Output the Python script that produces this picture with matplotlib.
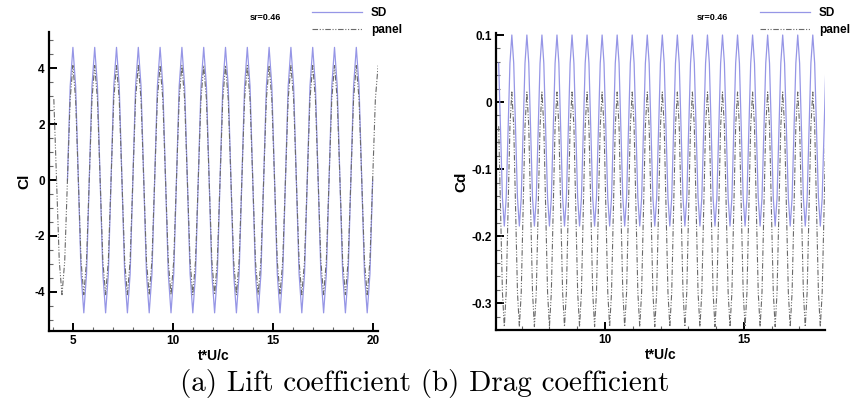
import numpy as np
import matplotlib.pyplot as plt
from matplotlib.ticker import MultipleLocator, FormatStrFormatter

plt.rcParams['font.family'] = ['Liberation Sans', 'DejaVu Sans']
plt.rcParams['font.weight'] = 'bold'
plt.rcParams['axes.labelweight'] = 'bold'
plt.rcParams['axes.unicode_minus'] = False

cl_dt = 0.13625
cl_t0_sd = 4.723
cl_t0_panel = 4.041
cl_sd = [0.0,
         3.36, 4.75, 3.36, 0.0, -3.36, -4.75, -3.36, 0.0,
         3.36, 4.75, 3.36, 0.0, -3.36, -4.75, -3.36, 0.0,
         3.36, 4.75, 3.36, 0.0, -3.36, -4.75, -3.36, 0.0,
         3.36, 4.75, 3.36, 0.0, -3.36, -4.75, -3.36, 0.0,
         3.36, 4.75, 3.36, 0.0, -3.36, -4.75, -3.36, 0.0,
         3.36, 4.75, 3.36, 0.0, -3.36, -4.75, -3.36, 0.0,
         3.36, 4.75, 3.36, 0.0, -3.36, -4.75, -3.36, 0.0,
         3.36, 4.75, 3.36, 0.0, -3.36, -4.75, -3.36, 0.0,
         3.36, 4.75, 3.36, 0.0, -3.36, -4.75, -3.36, 0.0,
         3.36, 4.75, 3.36, 0.0, -3.36, -4.75, -3.36, 0.0,
         3.36, 4.75, 3.36, 0.0, -3.36, -4.75, -3.36, 0.0,
         3.36, 4.75, 3.36, 0.0, -3.36, -4.75, -3.36, 0.0,
         3.36, 4.75, 3.36, 0.0, -3.36, -4.75, -3.36, 0.0,
         3.36, 4.75, 3.36, 0.0, -3.36, -4.75, -3.36, 0.0]
cl_panel = [2.9, 0.0, -2.9, -4.1, -2.9, 0.0, 2.9, 4.1,
            2.9, 0.0, -2.9, -4.1, -2.9, 0.0, 2.9, 4.1,
            2.9, 0.0, -2.9, -4.1, -2.9, 0.0, 2.9, 4.1,
            2.9, 0.0, -2.9, -4.1, -2.9, 0.0, 2.9, 4.1,
            2.9, 0.0, -2.9, -4.1, -2.9, 0.0, 2.9, 4.1,
            2.9, 0.0, -2.9, -4.1, -2.9, 0.0, 2.9, 4.1,
            2.9, 0.0, -2.9, -4.1, -2.9, 0.0, 2.9, 4.1,
            2.9, 0.0, -2.9, -4.1, -2.9, 0.0, 2.9, 4.1,
            2.9, 0.0, -2.9, -4.1, -2.9, 0.0, 2.9, 4.1,
            2.9, 0.0, -2.9, -4.1, -2.9, 0.0, 2.9, 4.1,
            2.9, 0.0, -2.9, -4.1, -2.9, 0.0, 2.9, 4.1,
            2.9, 0.0, -2.9, -4.1, -2.9, 0.0, 2.9, 4.1,
            2.9, 0.0, -2.9, -4.1, -2.9, 0.0, 2.9, 4.1,
            2.9, 0.0, -2.9, -4.1, -2.9, 0.0, 2.9, 4.1,
            2.9, 0.0, -2.9, -4.1, -2.9, 0.0, 2.9, 4.1]

# Drag coefficient histories, same sampling density
cd_dt = 0.06769
cd_t0 = 6.176
cd_sd = [0.058, -0.0425, -0.143, -0.185, -0.143, -0.0425, 0.058, 0.1,
         0.058, -0.0425, -0.143, -0.185, -0.143, -0.0425, 0.058, 0.1,
         0.058, -0.0425, -0.143, -0.185, -0.143, -0.0425, 0.058, 0.1,
         0.058, -0.0425, -0.143, -0.185, -0.143, -0.0425, 0.058, 0.1,
         0.058, -0.0425, -0.143, -0.185, -0.143, -0.0425, 0.058, 0.1,
         0.058, -0.0425, -0.143, -0.185, -0.143, -0.0425, 0.058, 0.1,
         0.058, -0.0425, -0.143, -0.185, -0.143, -0.0425, 0.058, 0.1,
         0.058, -0.0425, -0.143, -0.185, -0.143, -0.0425, 0.058, 0.1,
         0.058, -0.0425, -0.143, -0.185, -0.143, -0.0425, 0.058, 0.1,
         0.058, -0.0425, -0.143, -0.185, -0.143, -0.0425, 0.058, 0.1,
         0.058, -0.0425, -0.143, -0.185, -0.143, -0.0425, 0.058, 0.1,
         0.058, -0.0425, -0.143, -0.185, -0.143, -0.0425, 0.058, 0.1,
         0.058, -0.0425, -0.143, -0.185, -0.143, -0.0425, 0.058, 0.1,
         0.058, -0.0425, -0.143, -0.185, -0.143, -0.0425, 0.058, 0.1,
         0.058, -0.0425, -0.143, -0.185, -0.143, -0.0425, 0.058, 0.1,
         0.058, -0.0425, -0.143, -0.185, -0.143, -0.0425, 0.058, 0.1,
         0.058, -0.0425, -0.143, -0.185, -0.143, -0.0425, 0.058, 0.1,
         0.058, -0.0425, -0.143, -0.185, -0.143, -0.0425, 0.058, 0.1,
         0.058, -0.0425, -0.143, -0.185, -0.143, -0.0425, 0.058, 0.1,
         0.058, -0.0425, -0.143, -0.185, -0.143, -0.0425, 0.058, 0.1,
         0.058, -0.0425, -0.143, -0.185, -0.143, -0.0425, 0.058, 0.1,
         0.058, -0.0425, -0.143, -0.185, -0.143, -0.0425, 0.058]
cd_panel = [-0.036, -0.16, -0.284, -0.335, -0.284, -0.16, -0.036, 0.015,
            -0.036, -0.16, -0.284, -0.335, -0.284, -0.16, -0.036, 0.015,
            -0.036, -0.16, -0.284, -0.335, -0.284, -0.16, -0.036, 0.015,
            -0.036, -0.16, -0.284, -0.335, -0.284, -0.16, -0.036, 0.015,
            -0.036, -0.16, -0.284, -0.335, -0.284, -0.16, -0.036, 0.015,
            -0.036, -0.16, -0.284, -0.335, -0.284, -0.16, -0.036, 0.015,
            -0.036, -0.16, -0.284, -0.335, -0.284, -0.16, -0.036, 0.015,
            -0.036, -0.16, -0.284, -0.335, -0.284, -0.16, -0.036, 0.015,
            -0.036, -0.16, -0.284, -0.335, -0.284, -0.16, -0.036, 0.015,
            -0.036, -0.16, -0.284, -0.335, -0.284, -0.16, -0.036, 0.015,
            -0.036, -0.16, -0.284, -0.335, -0.284, -0.16, -0.036, 0.015,
            -0.036, -0.16, -0.284, -0.335, -0.284, -0.16, -0.036, 0.015,
            -0.036, -0.16, -0.284, -0.335, -0.284, -0.16, -0.036, 0.015,
            -0.036, -0.16, -0.284, -0.335, -0.284, -0.16, -0.036, 0.015,
            -0.036, -0.16, -0.284, -0.335, -0.284, -0.16, -0.036, 0.015,
            -0.036, -0.16, -0.284, -0.335, -0.284, -0.16, -0.036, 0.015,
            -0.036, -0.16, -0.284, -0.335, -0.284, -0.16, -0.036, 0.015,
            -0.036, -0.16, -0.284, -0.335, -0.284, -0.16, -0.036, 0.015,
            -0.036, -0.16, -0.284, -0.335, -0.284, -0.16, -0.036, 0.015,
            -0.036, -0.16, -0.284, -0.335, -0.284, -0.16, -0.036, 0.015,
            -0.036, -0.16, -0.284, -0.335, -0.284, -0.16, -0.036, 0.015,
            -0.036, -0.16, -0.284, -0.335, -0.284, -0.16, -0.036]

series_labels = ['SD', 'panel']
note = 'sr=0.46'
caption = '(a) Lift coefficient (b) Drag coefficient'

SD_COLOR = '#9696e6'
PANEL_COLOR = '#6a6a6a'
PANEL_DASH = (0, (5, 1.5, 1, 1.5, 1, 1.5))


def time_axis(t0, dt, values):
    return t0 + dt * np.arange(len(values))


def style_axes(ax, xlabel, ylabel, ymajor, yminor, yfmt):
    ax.spines['top'].set_visible(False)
    ax.spines['right'].set_visible(False)
    ax.spines['left'].set_linewidth(1.6)
    ax.spines['bottom'].set_linewidth(1.6)
    ax.xaxis.set_major_locator(MultipleLocator(5))
    ax.xaxis.set_minor_locator(MultipleLocator(1))
    ax.yaxis.set_major_locator(MultipleLocator(ymajor))
    ax.yaxis.set_minor_locator(MultipleLocator(yminor))
    ax.xaxis.set_major_formatter(FormatStrFormatter('%g'))
    ax.yaxis.set_major_formatter(FormatStrFormatter(yfmt))
    ax.tick_params(which='both', direction='in', labelsize=8.5, pad=3)
    ax.tick_params(which='major', length=6, width=1.4)
    ax.tick_params(which='minor', length=3, width=0.8, color='#666666')
    for lbl in ax.get_xticklabels() + ax.get_yticklabels():
        lbl.set_fontweight('bold')
    ax.set_xlabel(xlabel, fontsize=10, fontweight='bold', labelpad=1)
    ax.set_ylabel(ylabel, fontsize=11, fontweight='bold', labelpad=2)


def add_key(fig, ax, handles, x_note, x_key):
    fig.text(x_note / 850, 1 - 18 / 405, note, fontsize=6.5, ha='center', va='center')
    ax.legend(handles, series_labels, loc='upper left',
              bbox_to_anchor=(x_key / 850, 1 - 7 / 405), bbox_transform=fig.transFigure,
              frameon=False, handlelength=4.2, handletextpad=0.8, labelspacing=0.45,
              borderpad=0, borderaxespad=0, prop={'weight': 'bold', 'size': 8.5})


fig = plt.figure(figsize=(8.5, 4.05), dpi=100)

# (a) lift
ax1 = fig.add_axes([49 / 850, 1 - 331 / 405, 329 / 850, 299 / 405])
l1, = ax1.plot(time_axis(cl_t0_sd, cl_dt, cl_sd), cl_sd, color=SD_COLOR, lw=0.9)
l2, = ax1.plot(time_axis(cl_t0_panel, cl_dt, cl_panel), cl_panel,
               color=PANEL_COLOR, lw=0.8, linestyle=PANEL_DASH)
ax1.set_xlim(3.8, 20.25)
ax1.set_ylim(-5.4, 5.3)
style_axes(ax1, 't*U/c', 'Cl', 2, 0.5, '%g')
add_key(fig, ax1, [l1, l2], 265, 312)

# (b) drag
ax2 = fig.add_axes([496 / 850, 1 - 330 / 405, 329 / 850, 297 / 405])
cd_t = time_axis(cd_t0, cd_dt, cd_sd)
l3, = ax2.plot(cd_t, cd_sd, color=SD_COLOR, lw=0.9)
l4, = ax2.plot(cd_t, cd_panel, color=PANEL_COLOR, lw=0.8, linestyle=PANEL_DASH)
ax2.set_xlim(6.08, 17.92)
ax2.set_ylim(-0.34, 0.103)
style_axes(ax2, 't*U/c', 'Cd', 0.1, 0.02, '%g')
add_key(fig, ax2, [l3, l4], 712, 760)

fig.text(425 / 850, 1 - 383 / 405, caption, family='cmr10', fontsize=21,
         weight='normal', ha='center', va='center')

fig.savefig('out.png', dpi=100)
